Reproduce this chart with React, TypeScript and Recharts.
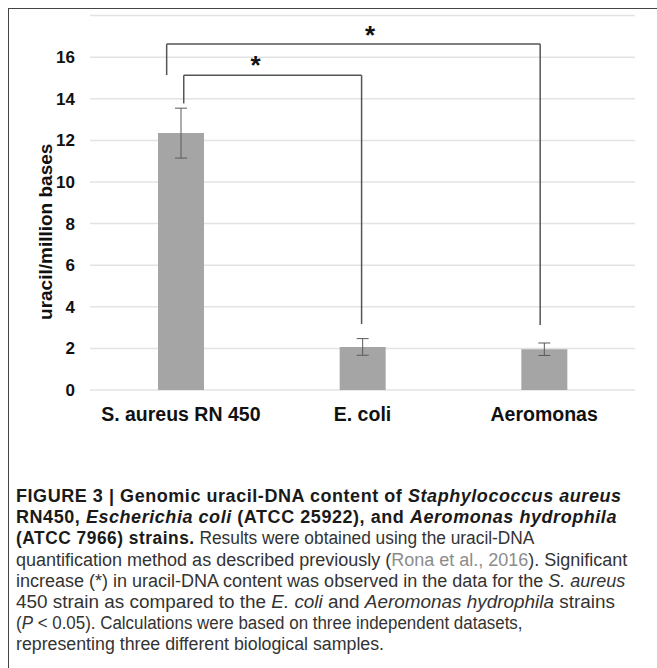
import { BarChart, Bar, XAxis, YAxis, CartesianGrid, ErrorBar, ReferenceLine, ReferenceDot } from "recharts";

const strains = ["S. aureus RN 450", "E. coli", "Aeromonas"];
const uracil = [12.35, 2.07, 1.96];
const uracilErr = [1.2, 0.4, 0.3];
const yTicks = [0, 2, 4, 6, 8, 10, 12, 14, 16];

// significance brackets, x in band units (0..3), y in uracil/million bases
const brackets = [
  { x1: 0.516, x2: 1.495, leftEnd: 13.78, rightEnd: 3.17, top: 15.13, starX: 0.912, starY: 15.66 },
  { x1: 0.422, x2: 2.478, leftEnd: 15.14, rightEnd: 3.125, top: 16.63, starX: 1.541, starY: 17.1 },
];

// band centre of each strain on the hidden numeric axis
const data = strains.map((strain, i) => ({ strain, pos: i + 0.5, uracil: uracil[i], err: uracilErr[i] }));

const FONT = "'Liberation Sans', Arial, Helvetica, sans-serif";
const LINE = "#555";

function YTitle({ viewBox }: any) {
  const x = viewBox.x + viewBox.width - 38;
  const y = viewBox.y + viewBox.height / 2 + 29;
  return (
    <text x={x} y={y} transform={`rotate(-90, ${x}, ${y})`} textAnchor="middle"
      fontFamily={FONT} fontSize={19} fontWeight={700} fill="#111">
      uracil/million bases
    </text>
  );
}

const gray = { color: "#8c8c8c" };
const bold = { fontWeight: 700, color: "#1a1a1a", letterSpacing: "0.55px" };
const squeeze = (k: number) => ({ transform: `scaleX(${k})`, transformOrigin: "0 0" });

export default function App() {
  return (
    <div style={{ position: "relative", width: 657, height: 668, overflow: "hidden", background: "#fff", fontFamily: FONT }}>
      <style>{"body{margin:0}"}</style>
      <div style={{
        position: "absolute", left: 8, top: 8, width: 670, height: 680,
        border: "1.5px solid #444", boxSizing: "border-box",
      }} />
      <div style={{ position: "absolute", left: 0, top: 0 }}>
        <BarChart width={657} height={440} data={data} margin={{ top: 15.6, right: 22, bottom: 20, left: 0 }}>
          <CartesianGrid vertical={false} stroke="#e3e3e3" strokeWidth={1.5} />
          <XAxis dataKey="strain" height={30} tickLine={false} axisLine={false} tickMargin={11}
            tick={{ fontSize: 19.5, fontWeight: 700, fill: "#111", fontFamily: FONT }} interval={0} />
          <XAxis xAxisId="pos" dataKey="pos" type="number" domain={[0, 3]} allowDataOverflow hide />
          <YAxis width={90} domain={[0, 18]} ticks={yTicks} interval={0} tickLine={false} axisLine={false}
            tickMargin={9} tick={{ fontSize: 17, fontWeight: 700, fill: "#111", fontFamily: FONT }}
            label={<YTitle />} />
          <Bar dataKey="uracil" fill="#a5a5a5" barSize={46} isAnimationActive={false}>
            <ErrorBar dataKey="err" width={6} stroke="#5a5a5a" strokeWidth={1} isAnimationActive={false} />
          </Bar>
          {brackets.map((b, i) => (
            <g key={i}>
              <ReferenceLine xAxisId="pos" ifOverflow="visible" stroke={LINE} strokeWidth={1.5}
                segment={[{ x: b.x1, y: b.leftEnd }, { x: b.x1, y: b.top }]} />
              <ReferenceLine xAxisId="pos" ifOverflow="visible" stroke={LINE} strokeWidth={1.5}
                segment={[{ x: b.x1, y: b.top }, { x: b.x2, y: b.top }]} />
              <ReferenceLine xAxisId="pos" ifOverflow="visible" stroke={LINE} strokeWidth={1.5}
                segment={[{ x: b.x2, y: b.top }, { x: b.x2, y: b.rightEnd }]} />
              <ReferenceDot xAxisId="pos" x={b.starX} y={b.starY} r={0} ifOverflow="visible" stroke="none"
                label={{ value: "*", position: "center", fontSize: 26, fontWeight: 700, fill: "#111", fontFamily: FONT }} />
            </g>
          ))}
        </BarChart>
      </div>
      <div style={{
        position: "absolute", left: 16, top: 486, fontSize: 18, lineHeight: "21.2px",
        color: "#333", whiteSpace: "nowrap",
      }}>
        <div style={bold}>FIGURE 3 | Genomic uracil-DNA content of <i>Staphylococcus aureus</i></div>
        <div style={bold}>RN450, <i>Escherichia coli</i> (ATCC 25922), and <i>Aeromonas hydrophila</i></div>
        <div style={squeeze(0.962)}><b style={bold}>(ATCC 7966) strains.</b> Results were obtained using the uracil-DNA</div>
        <div>quantification method as described previously (<span style={gray}>Rona et al., 2016</span>). Significant</div>
        <div>increase (*) in uracil-DNA content was observed in the data for the <i>S. aureus</i></div>
        <div style={squeeze(1.05)}>450 strain as compared to the <i>E. coli</i> and <i>Aeromonas hydrophila</i> strains</div>
        <div style={squeeze(0.94)}>(<i>P</i> &lt; 0.05). Calculations were based on three independent datasets,</div>
        <div style={squeeze(0.987)}>representing three different biological samples.</div>
      </div>
    </div>
  );
}
